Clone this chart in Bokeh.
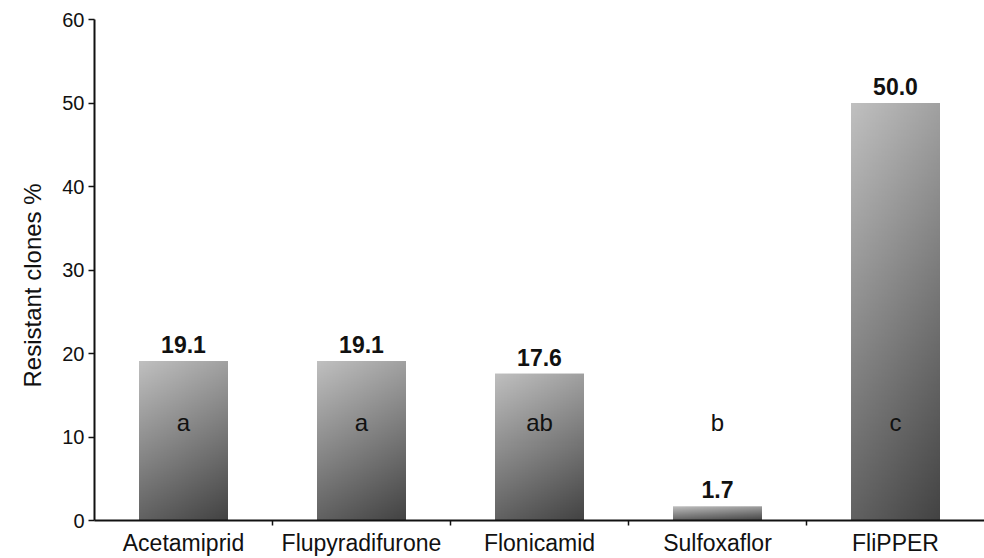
import numpy as np
from bokeh.plotting import figure
from bokeh.models import ColumnDataSource, FixedTicker, Range1d, Title
from bokeh.core.properties import value
from bokeh.embed import file_html
from bokeh.resources import INLINE

categories = ["Acetamiprid", "Flupyradifurone", "Flonicamid", "Sulfoxaflor", "FliPPER"]
values = [19.1, 19.1, 17.6, 1.7, 50.0]
letters = ["a", "a", "ab", "b", "c"]
letter_y = 11.7
y_ticks = [0, 10, 20, 30, 40, 50, 60]
y_title = "Resistant clones %"

FONT = "Liberation Sans"

p = figure(width=984, height=558, output_backend="svg", toolbar_location=None,
           x_range=Range1d(0, 5), y_range=Range1d(0, 60),
           min_border_left=94, min_border_right=0, min_border_top=19, min_border_bottom=37)
p.outline_line_color = None
p.xgrid.visible = False
p.ygrid.visible = False

# gradient bars: one smooth RGBA image per bar, placed by data coordinates
light = np.array([192, 192, 192])
dark = np.array([66, 66, 66])
bw = 0.5
nrow, ncol = 240, 60
u = (np.arange(ncol) + 0.5) / ncol
w = (np.arange(nrow) + 0.5) / nrow  # row 0 = bottom of image
imgs, xs, ys, dws, dhs = [], [], [], [], []
for i, v in enumerate(values):
    t = 0.25 * u[None, :] + 0.75 * (1 - w[:, None])  # dark at bottom-right
    img = np.empty((nrow, ncol), dtype=np.uint32)
    view = img.view(dtype=np.uint8).reshape((nrow, ncol, 4))
    for k in range(3):
        view[:, :, k] = np.round(light[k] + (dark[k] - light[k]) * t).astype(np.uint8)
    view[:, :, 3] = 255
    imgs.append(img)
    xs.append(i + 0.5 - bw / 2)
    ys.append(0)
    dws.append(bw)
    dhs.append(v)
p.image_rgba(image=imgs, x=xs, y=ys, dw=dws, dh=dhs)

xc = [i + 0.5 for i in range(len(categories))]
lab = ColumnDataSource(dict(x=xc, y=values, txt=["%.1f" % v for v in values],
                            ly=[letter_y] * len(letters), let=letters))
p.text(x="x", y="y", text="txt", source=lab, text_align="center", text_baseline="bottom",
       y_offset=-8, text_font=value(FONT), text_font_style="bold", text_font_size="23px",
       text_color="#111111")
p.text(x="x", y="ly", text="let", source=lab, text_align="center", text_baseline="middle",
       text_font=value(FONT), text_font_size="24px", text_color="#111111")

# x axis
p.xaxis.ticker = FixedTicker(ticks=xc, minor_ticks=[1, 2, 3, 4])
p.xaxis.major_label_overrides = {x: c for x, c in zip(xc, categories)}
p.xaxis.major_tick_line_color = None
p.xaxis.major_tick_in = 0
p.xaxis.major_tick_out = 0
p.xaxis.minor_tick_in = 0
p.xaxis.minor_tick_out = 5
p.xaxis.minor_tick_line_width = 1.5
p.xaxis.minor_tick_line_color = "#111111"
p.xaxis.axis_line_width = 2
p.xaxis.axis_line_color = "#111111"
p.xaxis.major_label_standoff = 4
p.xaxis.major_label_text_font = FONT
p.xaxis.major_label_text_font_size = "23px"
p.xaxis.major_label_text_color = "#111111"

# y axis
p.yaxis.ticker = FixedTicker(ticks=y_ticks)
p.yaxis.minor_tick_line_color = None
p.yaxis.major_tick_in = 0
p.yaxis.major_tick_out = 6
p.yaxis.major_tick_line_width = 1.5
p.yaxis.major_tick_line_color = "#111111"
p.yaxis.axis_line_width = 2
p.yaxis.axis_line_color = "#111111"
p.yaxis.major_label_standoff = 4
p.yaxis.major_label_text_font = FONT
p.yaxis.major_label_text_font_size = "20px"
p.yaxis.major_label_text_color = "#111111"

p.add_layout(Title(text=y_title, align="left", offset=133, standoff=24,
                   vertical_align="top",
                   text_font=FONT, text_font_style="normal", text_font_size="24px",
                   text_color="#111111"), "left")

open("out.html", "w").write(file_html(p, INLINE))
